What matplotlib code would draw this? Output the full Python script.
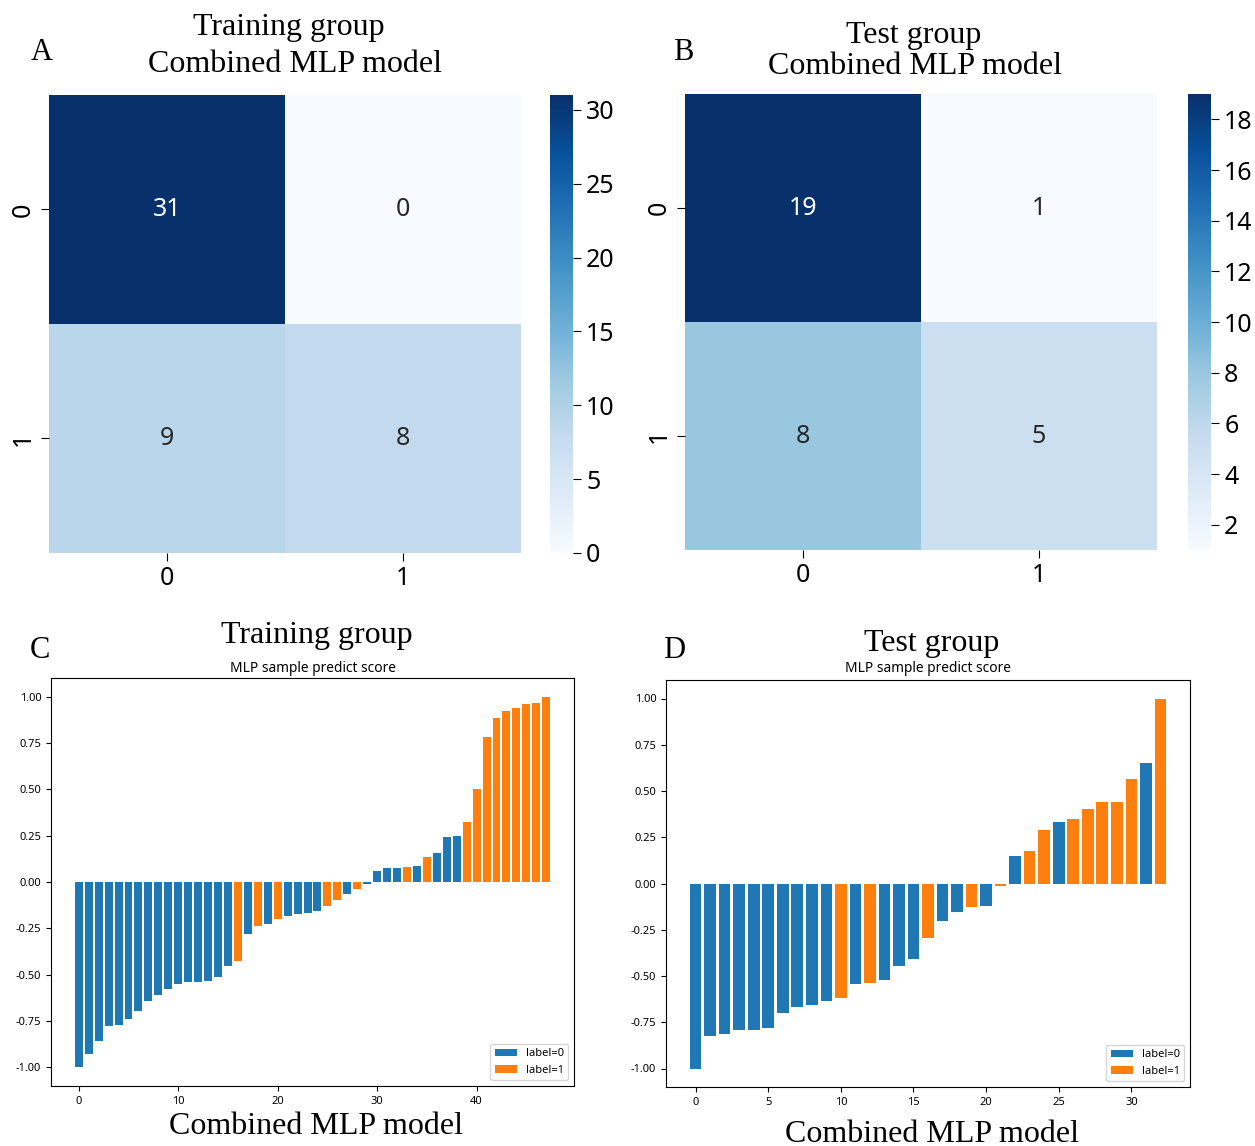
import numpy as np
import matplotlib
matplotlib.use("Agg")
import matplotlib.pyplot as plt
import seaborn as sns

W, H = 1255, 1146

# confusion matrices
cm_train = [[31, 0], [9, 8]]
cm_test = [[19, 1], [8, 5]]
cm_ticks = ["0", "1"]

# sorted predict scores and true labels
train_scores = [-1.00, -0.928, -0.858, -0.777, -0.771, -0.739, -0.696, -0.642, -0.609, -0.577,
                -0.550, -0.539, -0.539, -0.534, -0.512, -0.452, -0.425, -0.279, -0.236, -0.225,
                -0.198, -0.182, -0.171, -0.166, -0.155, -0.128, -0.095, -0.063, -0.036, -0.009,
                0.059, 0.076, 0.076, 0.081, 0.086, 0.135, 0.157, 0.240, 0.250, 0.326,
                0.499, 0.780, 0.883, 0.921, 0.937, 0.959, 0.964, 1.00]
train_labels = [0, 0, 0, 0, 0, 0, 0, 0, 0, 0,
                0, 0, 0, 0, 0, 0, 1, 0, 1, 0,
                1, 0, 0, 0, 0, 1, 1, 0, 1, 0,
                0, 0, 0, 1, 0, 1, 0, 0, 0, 1,
                1, 1, 1, 1, 1, 1, 1, 1]

test_scores = [-1.00, -0.826, -0.815, -0.793, -0.793, -0.782, -0.701, -0.669, -0.658, -0.637,
               -0.620, -0.545, -0.540, -0.523, -0.448, -0.41, -0.297, -0.205, -0.156, -0.129,
               -0.124, -0.011, 0.151, 0.173, 0.291, 0.335, 0.351, 0.405, 0.442, 0.442,
               0.567, 0.653, 1.00]
test_labels = [0, 0, 0, 0, 0, 0, 0, 0, 0, 0,
               1, 0, 1, 0, 0, 0, 1, 0, 0, 1,
               0, 1, 0, 1, 1, 0, 1, 1, 1, 1,
               1, 0, 1]

serif = "Liberation Serif"
sans = "Noto Sans"

fig = plt.figure(figsize=(W / 100, H / 100), dpi=100)


def box(x0, y0, x1, y1):
    return [x0 / W, 1 - y1 / H, (x1 - x0) / W, (y1 - y0) / H]


def px(x, y):
    return x / W, 1 - y / H


def heat(cm, ax_box, cb_box, cb_ticks):
    ax = fig.add_axes(box(*ax_box))
    cax = fig.add_axes(box(*cb_box))
    sns.heatmap(np.array(cm), annot=True, fmt="d", cmap="Blues", ax=ax, cbar_ax=cax,
                annot_kws={"fontsize": 18, "family": sans},
                xticklabels=cm_ticks, yticklabels=cm_ticks)
    ax.tick_params(labelsize=18, length=6)
    for t in ax.get_xticklabels() + ax.get_yticklabels():
        t.set_family(sans)
    ax.set_yticklabels(cm_ticks, rotation=90, va="center")
    cax.set_yticks(cb_ticks)
    cax.tick_params(labelsize=18, length=6)
    for t in cax.get_yticklabels():
        t.set_family(sans)
    return ax


heat(cm_train, (49, 95, 521, 553), (550, 95, 573, 553), [0, 5, 10, 15, 20, 25, 30])
heat(cm_test, (685, 94, 1157, 550), (1188, 94, 1211, 550), [2, 4, 6, 8, 10, 12, 14, 16, 18])

fig.text(*px(289, 27), "Training group", ha="center", va="center", family=serif, fontsize=23)
fig.text(*px(295, 65), "Combined MLP model", ha="center", va="center", family=serif, fontsize=23)
fig.text(*px(914, 35), "Test group", ha="center", va="center", family=serif, fontsize=23)
fig.text(*px(915, 67), "Combined MLP model", ha="center", va="center", family=serif, fontsize=23)


def scores(vals, labs, ax_box, title, title_y, sub_y, xl_y):
    ax = fig.add_axes(box(*ax_box))
    x = np.arange(len(vals))
    vals = np.array(vals)
    labs = np.array(labs)
    for lab, col in [(0, "tab:blue"), (1, "tab:orange")]:
        m = labs == lab
        ax.bar(x[m], vals[m], color=col, label=f"label={lab}")
    ax.set_yticks([-1, -0.75, -0.5, -0.25, 0, 0.25, 0.5, 0.75, 1])
    ax.set_yticklabels([f"{v:.2f}" for v in ax.get_yticks()])
    ax.tick_params(labelsize=8)
    for t in ax.get_xticklabels() + ax.get_yticklabels():
        t.set_family(sans)
    ax.legend(loc="lower right", prop={"family": sans, "size": 8})
    cx = (ax_box[0] + ax_box[2]) / 2
    fig.text(*px(cx + 4, title_y), title, ha="center", va="center", family=serif, fontsize=23)
    fig.text(*px(cx, sub_y), "MLP sample predict score", ha="center", va="center",
             family=sans, fontsize=9.9)
    fig.text(*px(cx + 4, xl_y), "Combined MLP model", ha="center", va="center",
             family=serif, fontsize=23)
    return ax


scores(train_scores, train_labels, (51, 678, 574, 1086), "Training group", 636, 668, 1126)
scores(test_scores, test_labels, (666, 680, 1190, 1087), "Test group", 644, 669, 1134)

for letter, x, y in [("A", 42, 52), ("B", 683, 52), ("C", 40, 650), ("D", 674, 650)]:
    fig.text(*px(x, y), letter, ha="center", va="center", family=serif, fontsize=22)

fig.savefig("out.png", dpi=100)
